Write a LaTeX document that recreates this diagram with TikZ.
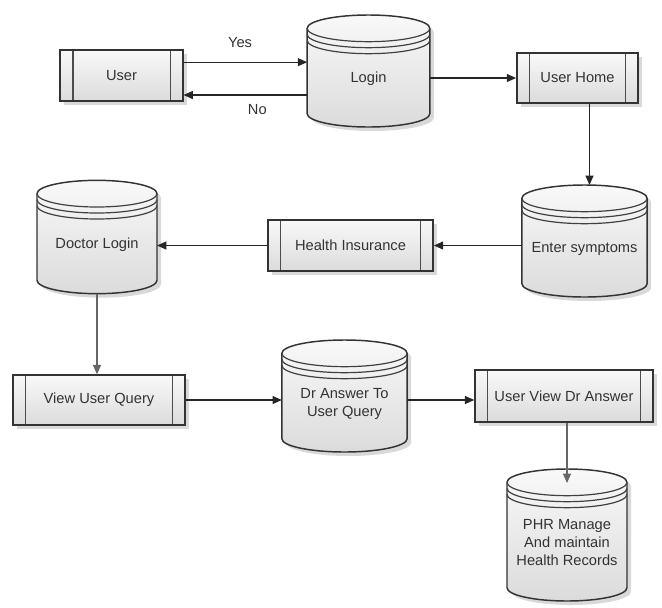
\documentclass[tikz,border=0pt]{standalone}
\usepackage{fontspec}
\setmainfont{Liberation Sans}
\usetikzlibrary{arrows.meta, shadows, backgrounds, calc}

\def\cylr{10pt}
\def\cylup{6pt}

\begin{document}
\begin{tikzpicture}[
    x=0.75pt, y=-0.75pt,
    font=\fontsize{11}{13.5}\selectfont,
    procbox/.style={
        rectangle,
        draw=black!80,
        line width=1.1pt,
        top color=gray!5,
        bottom color=gray!28,
        drop shadow={shadow xshift=3pt, shadow yshift=-3pt, opacity=0.3},
        text=black!80,
        path picture={
            \draw[black!70, line width=1pt]
              ([xshift=9.5pt]path picture bounding box.north west) -- ([xshift=9.5pt]path picture bounding box.south west)
              ([xshift=-9.5pt]path picture bounding box.north east) -- ([xshift=-9.5pt]path picture bounding box.south east);
        }
    },
    storebox/.style={
        rectangle,
        inner sep=2pt,
        outer sep=0pt,
        align=center,
        text=black!80
    },
    storebody/.style={
        draw=black!80,
        line width=1.1pt,
        top color=gray!5,
        bottom color=gray!28,
        drop shadow={shadow xshift=3pt, shadow yshift=-3pt, opacity=0.3}
    },
    flow/.style={
        -{Triangle[length=7pt,width=6pt]},
        black!85,
        line width=0.8pt
    }
]
\useasboundingbox (0,0) rectangle (662,608);

\node (user) [procbox, minimum width=92pt, minimum height=38pt] at (121.5,75.5) {User};
\node (login) [storebox, minimum width=92pt, minimum height=84pt] at (368.5,79) {Login};
\node (home) [procbox, minimum width=91pt, minimum height=37.5pt] at (577.5,78) {User Home};
\node (symp) [storebox, minimum width=94pt, minimum height=84pt] at (584.5,249) {Enter symptoms};
\node (ins) [procbox, minimum width=124pt, minimum height=38pt] at (350.5,245.5) {Health Insurance};
\node (doc) [storebox, minimum width=90pt, minimum height=85pt] at (97,245) {Doctor Login};
\node (view) [procbox, minimum width=129pt, minimum height=37.5pt] at (99,400) {View User Query};
\node (ans) [storebox, minimum width=94pt, minimum height=84pt] at (344.5,404) {Dr Answer To\\User Query};
\node (uview) [procbox, minimum width=133.5pt, minimum height=39pt] at (564,396) {User View Dr Answer};
\node (phr) [storebox, minimum width=90pt, minimum height=99pt] at (567,543) {PHR Manage\\And maintain\\Health Records};

% cylinders behind the store nodes
\begin{scope}[on background layer]
\foreach \cyl in {login,symp,doc,ans,phr}{
  \path[storebody] let \p1=(\cyl.north west), \p2=(\cyl.south east) in
    (\x1,\y1+\cylup-\cylr) -- (\x1,\y2+\cylup+\cylr)
    arc[start angle=180, end angle=360, x radius={(\x2-\x1)/2}, y radius=\cylr]
    -- (\x2,\y1+\cylup-\cylr)
    arc[start angle=0, end angle=180, x radius={(\x2-\x1)/2}, y radius=\cylr]
    -- cycle;
  \foreach \off in {0pt,4.5pt,9pt}
    \draw[black!75, line width=0.9pt] let \p1=(\cyl.north west), \p2=(\cyl.south east) in
      (\x1,\y1+\cylup-\cylr-\off)
      arc[start angle=180, end angle=360, x radius={(\x2-\x1)/2}, y radius=\cylr];
}
\end{scope}

\draw[flow] ([yshift=10pt]user.east) -- ([yshift=10pt]user.east -| login.west)
    node[midway, above=7pt, xshift=-4pt, text=black!80] {Yes};
\draw[flow] ([yshift=-12pt]login.west) -- ([yshift=-12pt]login.west -| user.east)
    node[midway, below=3.5pt, xshift=9pt, text=black!80] {No};
\draw[flow] (login.east |- home.west) -- (home.west);
\draw[flow] ([xshift=9pt]home.south) -- ($(home.south |- symp.north)+(9pt,\cylup)$);
\draw[flow] (symp.west |- ins.east) -- (ins.east);
\draw[flow] (ins.west) -- (ins.west -| doc.east);
\draw[flow, black!60] ([yshift=\cylup]doc.south) -- (doc.south |- view.north);
\draw[flow] (view.east) -- (view.east -| ans.west);
\draw[flow] (view.east -| ans.east) -- (view.east -| uview.west);
\draw[flow, black!60] (uview.south -| phr.north) -- ([yshift=-4.5pt]phr.north);
\end{tikzpicture}
\end{document}
